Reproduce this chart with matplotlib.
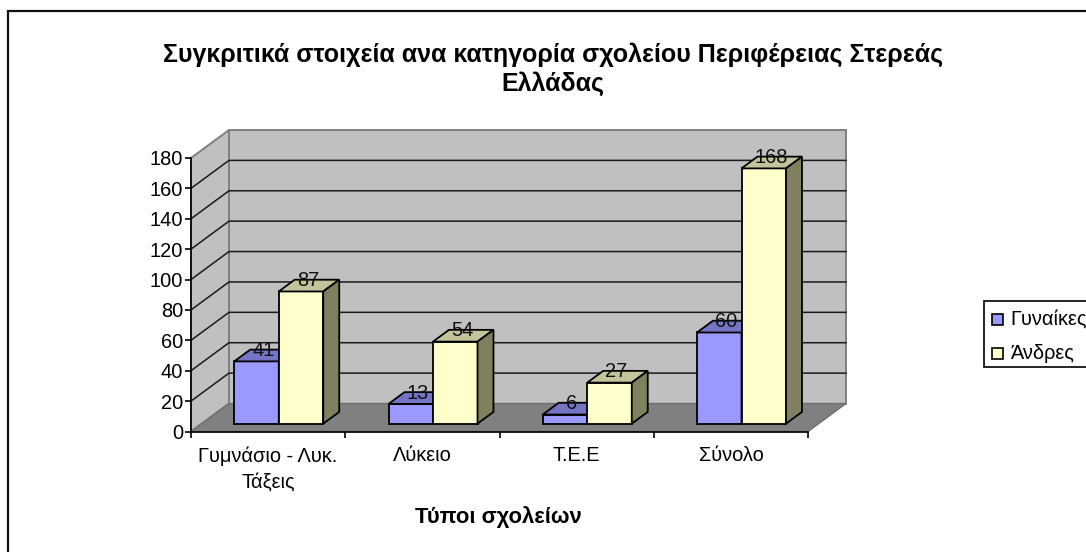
#!/usr/bin/env python3
"""Excel style pseudo-3D clustered columns, drawn on an ordinary axes with an oblique depth offset."""
import matplotlib; matplotlib.use("Agg")
import matplotlib.pyplot as plt
from matplotlib.lines import Line2D
from matplotlib.patches import Polygon, Rectangle

TITLE = "Συγκριτικά στοιχεία ανα κατηγορία σχολείου Περιφέρειας Στερεάς\nΕλλάδας"
XLABEL = "Τύποι σχολείων"
categories = ["Γυμνάσιο - Λυκ.\nΤάξεις", "Λύκειο", "Τ.Ε.Ε", "Σύνολο"]
women = [41, 13, 6, 60]
men = [87, 54, 27, 168]
yticks = list(range(0, 181, 20))
series_names = ["Γυναίκες", "Άνδρες"]

W, H = 1086, 552
plt.rcParams["font.family"] = ["Liberation Sans", "DejaVu Sans"]
PX = 72 / 100  # font points per pixel at dpi 100
FS = 20 * PX

fig = plt.figure(figsize=(W / 100, H / 100), dpi=100, facecolor="white")
# frame of the chart area: only left and top show, the crop cuts off the rest
fig.add_artist(Line2D([7.5 / W, 7.5 / W, 1], [0, 1 - 11 / H, 1 - 11 / H], transform=fig.transFigure,
                      color="#111111", lw=1.6, solid_joinstyle="miter", zorder=-1))

# the axes is the front plane of the 3D box
X0, X1, Y0, Y180 = 191, 808, 431.5, 158
ax = fig.add_axes([X0 / W, 1 - Y0 / H, (X1 - X0) / W, (Y0 - Y180) / H])
ax.set_xlim(0, len(categories)); ax.set_ylim(0, 180)
ax.patch.set_visible(False)
DX = 38 / ((X1 - X0) / len(categories))   # full depth in x units
DY = 28 / ((Y0 - Y180) / 180)             # full depth in y units


def pt(x, y, d=0.0):
    """oblique projection: d=0 front plane, d=1 back wall"""
    return (x + d * DX, y + d * DY)


def poly(pts, fc, ec="none", lw=1.3, z=1):
    ax.add_patch(Polygon(pts, closed=True, fc=fc, ec=ec, lw=lw, zorder=z, clip_on=False, joinstyle="miter"))


n = len(categories)
# walls and floor
poly([pt(0, 0, 1), pt(n, 0, 1), pt(n, 180, 1), pt(0, 180, 1)], "#C0C0C0", "#808080", 1.4)
poly([pt(0, 0), pt(0, 0, 1), pt(0, 180, 1), pt(0, 180)], "#C0C0C0", "#808080", 1.4)
poly([pt(0, 0), pt(n, 0), pt(n, 0, 1), pt(0, 0, 1)], "#808080", "#707070", 1.0, z=2)
# gridlines on back + side wall, the top one is just the grey wall edge
for t in yticks[1:-1]:
    ax.plot(*zip(pt(0, t), pt(0, t, 1), pt(n, t, 1)), color="#1a1a1a", lw=1.1, zorder=3, clip_on=False)

# columns
BAR_W = 0.2885
D0, D1 = 0.28, 0.70
series = [(women, "#9999FF", "#7575C5", "#5C5C9E", 0), (men, "#FFFFCC", "#C4C49C", "#80805F", 1)]
for i in range(n):
    for vals, front, top, side, k in series:
        xl = i + 0.2115 + k * BAR_W
        xr = xl + BAR_W
        v = vals[i]
        z = 5 + k
        poly([pt(xl, 0, D0), pt(xr, 0, D0), pt(xr, v, D0), pt(xl, v, D0)], front, "black", z=z)
        poly([pt(xl, v, D0), pt(xr, v, D0), pt(xr, v, D1), pt(xl, v, D1)], top, "black", z=z)
        poly([pt(xr, 0, D0), pt(xr, 0, D1), pt(xr, v, D1), pt(xr, v, D0)], side, "black", z=z)
        lx, ly = pt((xl + xr) / 2, v, D1)
        ax.annotate(str(v), (lx, ly), xytext=(-9, -1), textcoords="offset pixels", ha="center", va="center",
                    fontsize=FS, color="#111111", zorder=8, annotation_clip=False)

for sp in ("top", "right"):
    ax.spines[sp].set_visible(False)
for sp in ("left", "bottom"):
    ax.spines[sp].set_linewidth(1.2); ax.spines[sp].set_zorder(4)
ax.set_yticks(yticks)
ax.tick_params(axis="y", length=4, width=1.2, labelsize=FS, pad=1.5)
ax.set_xticks(range(n + 1)); ax.set_xticklabels([])
ax.tick_params(axis="x", which="major", length=4, width=1.2)
ax.set_xticks([i + 0.5 for i in range(n)], minor=True)
ax.set_xticklabels(categories, minor=True, fontsize=FS, linespacing=1.44)
ax.tick_params(axis="x", which="minor", length=0, pad=10.5)

fig.text(553 / W, 1 - 69 / H, TITLE, ha="center", va="center", fontsize=25 * PX, fontweight="bold", linespacing=1.2)
fig.text(498.5 / W, 1 - 517 / H, XLABEL, ha="center", va="center", fontsize=22 * PX, fontweight="bold")

# legend box
fig.add_artist(Rectangle((983.5 / W, 1 - 367 / H), 110 / W, 66.5 / H, transform=fig.transFigure,
                         fc="white", ec="black", lw=1.2))
for name, col, cy in zip(series_names, ["#9999FF", "#FFFFCC"], [319, 353]):
    fig.add_artist(Rectangle((991.5 / W, 1 - (cy + 5.5) / H), 11 / W, 11 / H, transform=fig.transFigure,
                             fc=col, ec="black", lw=1.2))
    fig.text(1010 / W, 1 - (cy + 0.5) / H, name, ha="left", va="center", fontsize=FS)

fig.savefig("out.png", dpi=100)
